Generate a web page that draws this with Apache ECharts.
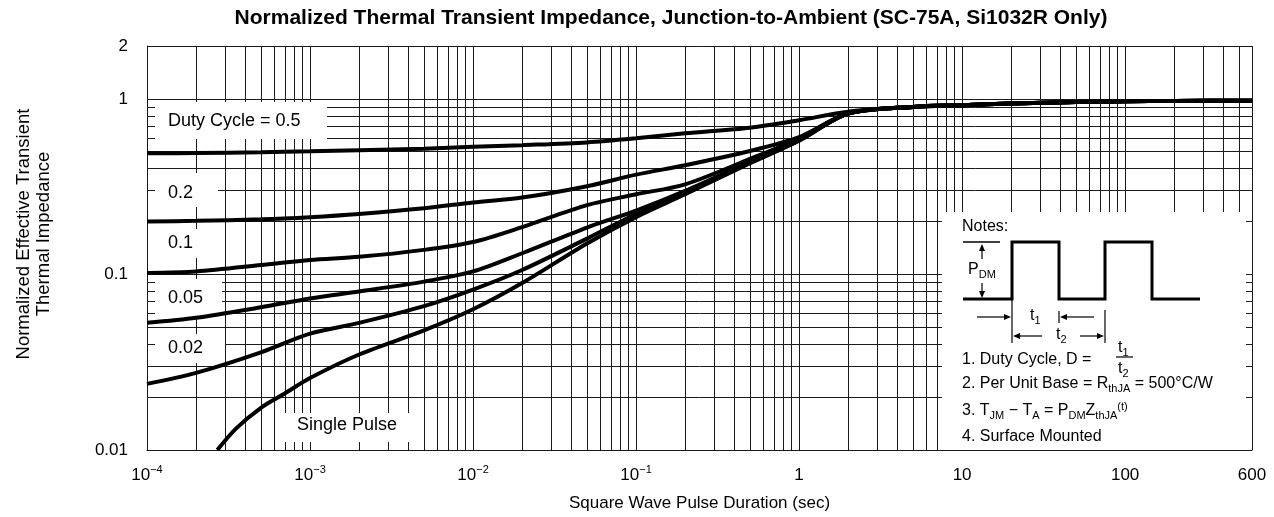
<!DOCTYPE html>
<html>
<head>
<meta charset="utf-8">
<script src="https://cdn.jsdelivr.net/npm/echarts@6/dist/echarts.min.js"></script>
<style>
html, body { margin: 0; padding: 0; background: #fff; }
#chart { width: 1274px; height: 517px; }
</style>
</head>
<body>
<div id="chart"></div>
<script>
// pulse duration (sec) used by the duty cycle curves
const pulseTime = [1e-4, 2e-4, 5e-4, 1e-3, 2e-3, 5e-3, 1e-2, 2e-2, 5e-2, 0.1, 0.2, 0.5, 1, 2, 5, 10, 20, 50, 100, 200, 600];
const duty05 = [0.49, 0.491, 0.497, 0.503, 0.51, 0.52, 0.533, 0.545, 0.565, 0.596, 0.636, 0.685, 0.755, 0.845, 0.9, 0.92, 0.94, 0.958, 0.968, 0.973, 0.975];
const duty02 = [0.20, 0.202, 0.206, 0.212, 0.221, 0.238, 0.257, 0.274, 0.318, 0.37, 0.419, 0.505, 0.605, 0.825, 0.9, 0.92, 0.94, 0.958, 0.968, 0.973, 0.975];
const duty01 = [0.102, 0.104, 0.113, 0.121, 0.126, 0.138, 0.153, 0.186, 0.248, 0.286, 0.326, 0.455, 0.595, 0.825, 0.9, 0.92, 0.94, 0.958, 0.968, 0.973, 0.975];
const duty005 = [0.053, 0.0566, 0.065, 0.073, 0.08, 0.091, 0.104, 0.132, 0.185, 0.231, 0.299, 0.44, 0.585, 0.825, 0.9, 0.92, 0.94, 0.958, 0.968, 0.973, 0.975];
const duty002 = [0.0238, 0.0275, 0.036, 0.046, 0.053, 0.066, 0.082, 0.106, 0.16, 0.221, 0.293, 0.435, 0.58, 0.825, 0.9, 0.92, 0.94, 0.958, 0.968, 0.973, 0.975];
// single pulse starts inside the plot
const singleTime = [2.7e-4, 3.5e-4, 5e-4, 7e-4, 1e-3, 2e-3, 5e-3, 1e-2, 2e-2, 5e-2, 0.1, 0.2, 0.5, 1, 2, 5, 10, 20, 50, 100, 200, 600];
const singlePulse = [0.01, 0.0132, 0.0174, 0.021, 0.0257, 0.035, 0.048, 0.0633, 0.0893, 0.15, 0.212, 0.286, 0.43, 0.578, 0.825, 0.9, 0.92, 0.94, 0.958, 0.968, 0.973, 0.975];

const xMin = 1e-4, xMax = 600;
const yMin = 0.01, yMax = 2;

// grid lines at 1..9 of each decade
const xGrid = [];
for (let d = -4; d <= 2; d++) {
    for (let k = 1; k <= 9; k++) {
        const v = k * Math.pow(10, d);
        if (v <= xMax * 1.0001) xGrid.push(v);
    }
}
xGrid.push(xMax);
const yGrid = [];
for (let d = -2; d <= 0; d++) {
    for (let k = 1; k <= 9; k++) yGrid.push(k * Math.pow(10, d));
}
yGrid.push(1, yMax);

const FONT = '"Liberation Sans", Arial, Helvetica, sans-serif';
const chart = echarts.init(document.getElementById('chart'));

const pair = (xs, ys) => xs.map((x, i) => [x, ys[i]]);

const curve = (name, data) => ({
    name: name,
    type: 'line',
    data: data,
    showSymbol: false,
    symbol: 'none',
    smooth: 0.3,
    z: 10,
    silent: true,
    lineStyle: { color: '#000', width: 4 }
});

// white boxes behind the curve labels
const labelBox = (text, x0, y0, x1, y1, tx, ty) => [
    { type: 'rect', z: 6, silent: true, shape: { x: x0, y: y0, width: x1 - x0, height: y1 - y0 }, style: { fill: '#fff' } },
    { type: 'text', z: 7, silent: true, x: tx, y: ty, style: { text: text, font: '18px ' + FONT, fill: '#000', align: 'left', verticalAlign: 'middle' } }
];

const seg = (pts, w) => ({ type: 'polyline', z: 7, silent: true, shape: { points: pts }, style: { stroke: '#000', lineWidth: w, fill: null } });
const head = (x, y, dir) => {
    // small filled arrow head, tip at (x,y)
    const L = 7, W = 3;
    let pts;
    if (dir === 'r') pts = [[x, y], [x - L, y - W], [x - L, y + W]];
    if (dir === 'l') pts = [[x, y], [x + L, y - W], [x + L, y + W]];
    if (dir === 'u') pts = [[x, y], [x - W, y + L], [x + W, y + L]];
    if (dir === 'd') pts = [[x, y], [x - W, y - L], [x + W, y - L]];
    return { type: 'polygon', z: 7, silent: true, shape: { points: pts }, style: { fill: '#000' } };
};
const richNote = {
    sub: { fontSize: 11, fontFamily: FONT, lineHeight: 12, verticalAlign: 'bottom' },
    sup: { fontSize: 11, fontFamily: FONT, lineHeight: 12, verticalAlign: 'top' }
};
const note = (text, x, y, align) => ({
    type: 'text', z: 7, silent: true, x: x, y: y,
    style: { text: text, fontSize: 16, fontFamily: FONT, fill: '#000', lineHeight: 20, align: align || 'left', verticalAlign: 'middle', rich: richNote }
});

const graphics = [].concat(
    labelBox('Duty Cycle = 0.5', 155, 102, 327, 139, 168, 121),
    labelBox('0.2', 155, 173, 218, 207, 168, 193),
    labelBox('0.1', 155, 229, 218, 258, 168, 243),
    labelBox('0.05', 155, 279, 222, 316, 168, 298),
    labelBox('0.02', 155, 334, 225, 363, 168, 348),
    labelBox('Single Pulse', 283, 413, 412, 442, 297, 425),
    [
        // notes panel, inset so the grid shows as edge ticks
        { type: 'rect', z: 6, silent: true, shape: { x: 942, y: 212, width: 304, height: 238 }, style: { fill: '#fff' } },
        note('Notes:', 962, 227),
        seg([[963, 299], [1012, 299], [1012, 242], [1059, 242], [1059, 299], [1105, 299], [1105, 242], [1152, 242], [1152, 299], [1200, 299]], 3),
        seg([[963, 242], [1000, 242]], 1.5),
        seg([[982, 250], [982, 259]], 1.2), head(982, 244, 'u'),
        note('P{sub|DM}', 982, 270, 'center'),
        seg([[982, 283], [982, 292]], 1.2), head(982, 298, 'd'),
        seg([[977, 317], [1006, 317]], 1.2), head(1011, 317, 'r'),
        seg([[1012, 299], [1012, 343]], 1.2),
        note('t{sub|1}', 1030, 316, 'left'),
        seg([[1066, 317], [1094, 317]], 1.2), head(1060, 317, 'l'),
        seg([[1059, 311], [1059, 323]], 1.2),
        seg([[1019, 336], [1042, 336]], 1.2), head(1013, 336, 'l'),
        note('t{sub|2}', 1056, 335, 'left'),
        seg([[1080, 336], [1099, 336]], 1.2), head(1104, 336, 'r'),
        seg([[1105, 310], [1105, 343]], 1.2),
        note('1. Duty Cycle, D =', 962, 360),
        note('t{sub|1}', 1118, 348, 'left'),
        seg([[1116, 357], [1133, 357]], 1.2),
        note('t{sub|2}', 1118, 369, 'left'),
        note('2. Per Unit Base = R{sub|thJA} = 500°C/W', 962, 384),
        note('3. T{sub|JM} − T{sub|A} = P{sub|DM}Z{sub|thJA}{sup|(t)}', 962, 411),
        note('4. Surface Mounted', 962, 437),
        // y axis title
        {
            type: 'text', z: 7, silent: true, x: 34, y: 234, rotation: Math.PI / 2,
            style: { text: 'Normalized Effective Transient\nThermal Impedance', fontSize: 18.5, fontFamily: FONT, fill: '#000', lineHeight: 20, align: 'center', verticalAlign: 'middle' }
        }
    ]
);

const option = {
    animation: false,
    title: {
        text: 'Normalized Thermal Transient Impedance, Junction-to-Ambient (SC-75A, Si1032R Only)',
        left: 671, top: 8, padding: 0, textAlign: 'center',
        textStyle: { fontFamily: FONT, fontSize: 21, fontWeight: 'bold', color: '#000' }
    },
    grid: { left: 147, right: 22, top: 46, bottom: 61 },
    xAxis: {
        type: 'log', logBase: 10, min: xMin, max: xMax,
        name: 'Square Wave Pulse Duration (sec)', nameLocation: 'middle', nameGap: 45,
        nameTextStyle: { fontFamily: FONT, fontSize: 17, color: '#000' },
        axisLine: { show: true, lineStyle: { color: '#000', width: 1 } },
        axisTick: { show: false },
        splitLine: { show: false },
        axisLabel: {
            margin: 14, fontFamily: FONT, fontSize: 17, color: '#000', lineHeight: 22,
            rich: { sup: { fontFamily: FONT, fontSize: 11, lineHeight: 12, verticalAlign: 'top' } },
            formatter: function (v) {
                if (Math.abs(v - 600) < 1) return '600';
                const e = Math.round(Math.log10(v));
                if (e >= 0) return String(Math.pow(10, e));
                return '10{sup|−' + (-e) + '}';
            }
        }
    },
    yAxis: {
        type: 'log', logBase: 10, min: yMin, max: yMax,
        axisLine: { show: true, lineStyle: { color: '#000', width: 1 } },
        axisTick: { show: false },
        splitLine: { show: false },
        axisLabel: {
            margin: 19, fontFamily: FONT, fontSize: 17, color: '#000',
            formatter: function (v) { return String(Number(v.toPrecision(3))); }
        }
    },
    graphic: { elements: graphics },
    series: [
        {
            // carries the grid lines
            type: 'line', data: [[1, 1]], symbol: 'none', silent: true, z: 1,
            lineStyle: { opacity: 0 },
            markLine: {
                silent: true, symbol: ['none', 'none'], animation: false, precision: 12,
                label: { show: false },
                emphasis: { disabled: true },
                lineStyle: { color: '#1a1a1a', width: 1, type: 'solid' },
                data: xGrid.map(v => [{ coord: [v, yMin] }, { coord: [v, yMax] }])
                    .concat(yGrid.map(v => [{ coord: [xMin, v] }, { coord: [xMax, v] }]))
            }
        },
        curve('0.5', pair(pulseTime, duty05)),
        curve('0.2', pair(pulseTime, duty02)),
        curve('0.1', pair(pulseTime, duty01)),
        curve('0.05', pair(pulseTime, duty005)),
        curve('0.02', pair(pulseTime, duty002)),
        curve('Single Pulse', pair(singleTime, singlePulse))
    ]
};
chart.setOption(option);
</script>
</body>
</html>
